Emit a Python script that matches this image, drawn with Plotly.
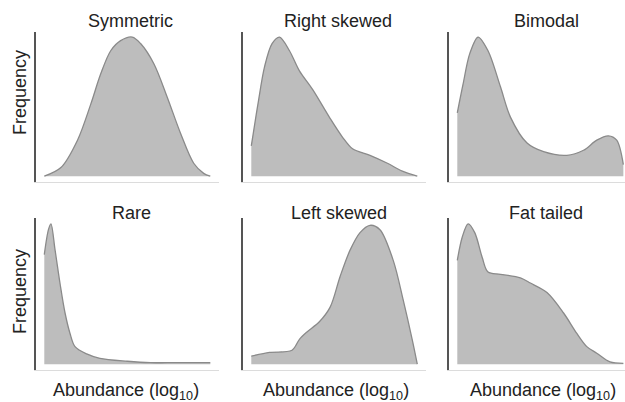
import plotly.graph_objects as go

titles = ["Symmetric", "Right skewed", "Bimodal", "Rare", "Left skewed", "Fat tailed"]

sym_x = [0, 1.0, 2.0, 2.8, 3.4, 4.0, 4.6, 5.3, 5.8, 6.6, 7.4, 8.2, 9.0, 9.6, 10]
sym_y = [0, 0.06, 0.25, 0.5, 0.71, 0.87, 0.94, 0.965, 0.92, 0.78, 0.55, 0.30, 0.09, 0.02, 0]

rsk_x = [0, 0.4, 0.8, 1.25, 1.7, 2.3, 2.9, 3.7, 4.7, 5.5, 6.1, 7.15, 8.2, 9.1, 10]
rsk_y = [0.21, 0.5, 0.76, 0.92, 0.965, 0.87, 0.73, 0.60, 0.41, 0.27, 0.19, 0.145, 0.09, 0.035, 0]

bim_x = [0, 0.35, 0.75, 1.25, 1.85, 2.6, 3.2, 4.2, 5.2, 6.6, 7.6, 8.4, 9.1, 9.6, 10]
bim_y = [0.44, 0.64, 0.85, 0.965, 0.87, 0.62, 0.41, 0.23, 0.17, 0.145, 0.18, 0.25, 0.28, 0.25, 0.08]

rare_x = [0, 0.25, 0.4, 0.65, 0.95, 1.25, 1.55, 1.85, 2.55, 3.35, 5.0, 6.4, 7.4, 10]
rare_y = [0.75, 0.92, 0.96, 0.78, 0.55, 0.35, 0.21, 0.12, 0.07, 0.04, 0.02, 0.01, 0.01, 0.01]

lsk_x = [0, 1.1, 2.45, 2.9, 3.35, 4.1, 4.75, 5.35, 5.95, 6.55, 7.15, 7.75, 8.55, 9.15, 9.7, 10]
lsk_y = [0.055, 0.08, 0.095, 0.17, 0.22, 0.29, 0.39, 0.60, 0.78, 0.90, 0.95, 0.92, 0.71, 0.44, 0.165, 0]

fat_x = [0, 0.3, 0.65, 1.05, 1.5, 1.85, 2.6, 3.8, 4.4, 5.4, 6.4, 7.2, 7.8, 8.4, 9.2, 10]
fat_y = [0.71, 0.87, 0.96, 0.90, 0.73, 0.63, 0.615, 0.59, 0.555, 0.49, 0.35, 0.21, 0.12, 0.075, 0.015, 0.005]

series = [(sym_x, sym_y), (rsk_x, rsk_y), (bim_x, bim_y),
          (rare_x, rare_y), (lsk_x, lsk_y), (fat_x, fat_y)]

ylabel = "Frequency"
xlabel = "Abundance (log<sub>10</sub>)"

W, H = 625, 402
FONT = "Liberation Sans, Arial, Helvetica, sans-serif"

# pixel layout
col_px = [(36, 218.6), (243, 425.6), (449, 625)]
col_ranges = [[-0.5, 10.5], [-0.5, 10.5], [-0.5, 10.1]]
row_px = [(32, 182), (218, 370)]

fig = go.Figure()
layout = dict(width=W, height=H, margin=dict(l=0, r=0, t=0, b=0),
              plot_bgcolor="white", paper_bgcolor="white", showlegend=False,
              font=dict(family=FONT, color="#222", size=18))
annotations = []
for i, (xs, ys) in enumerate(series):
    r, c = divmod(i, 3)
    n = i + 1
    xa = "x" if n == 1 else f"x{n}"
    ya = "y" if n == 1 else f"y{n}"
    fig.add_trace(go.Scatter(x=xs, y=ys, xaxis=xa, yaxis=ya, mode="lines",
                             line=dict(color="#8a8a8a", width=1.3, shape="spline", smoothing=0.9),
                             fill="tozeroy", fillcolor="#bdbdbd", hoverinfo="skip"))
    x0, x1 = col_px[c]
    y0, y1 = row_px[r]
    key_x = "xaxis" if n == 1 else f"xaxis{n}"
    key_y = "yaxis" if n == 1 else f"yaxis{n}"
    layout[key_x] = dict(domain=[x0 / W, min(x1 / W, 1.0)], range=col_ranges[c],
                         showgrid=False, zeroline=False, showticklabels=False, ticks="",
                         showline=True, linecolor="#dcdcdc", linewidth=1, anchor=ya, fixedrange=True)
    layout[key_y] = dict(domain=[1 - y1 / H, 1 - y0 / H], range=[-0.04, 1.0],
                         showgrid=False, zeroline=False, showticklabels=False, ticks="",
                         showline=True, linecolor="#555", linewidth=1.5, anchor=xa, fixedrange=True)

title_pos = [(130, 21), (338, 21), (546, 21), (131, 213), (339, 213), (546, 213)]
for t, (px, py) in zip(titles, title_pos):
    annotations.append(dict(text=t, x=px / W, y=1 - py / H, xref="paper", yref="paper",
                            showarrow=False, xanchor="center", yanchor="middle",
                            font=dict(size=18, family=FONT, color="#222")))
for py in (93, 292):
    annotations.append(dict(text=ylabel, x=20 / W, y=1 - py / H, xref="paper", yref="paper",
                            showarrow=False, textangle=-90, xanchor="center", yanchor="middle",
                            font=dict(size=18, family=FONT, color="#222")))
for px in (126, 336, 543):
    annotations.append(dict(text=xlabel, x=px / W, y=1 - 391 / H, xref="paper", yref="paper",
                            showarrow=False, xanchor="center", yanchor="middle",
                            font=dict(size=18, family=FONT, color="#222")))
layout["annotations"] = annotations
fig.update_layout(**layout)
fig.write_html("out.html", config={"displayModeBar": False},
               post_script="document.body.style.margin='0';document.body.style.padding='0';document.body.style.overflow='hidden';")
